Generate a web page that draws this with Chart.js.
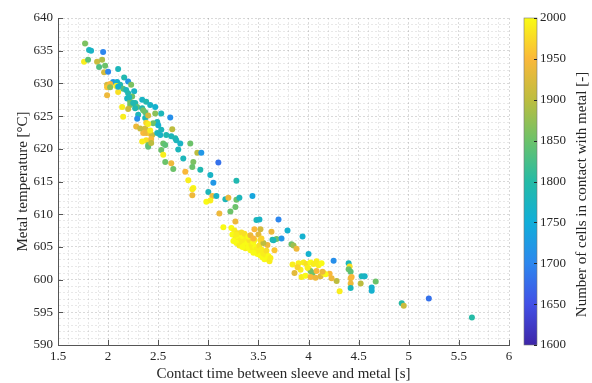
<!DOCTYPE html>
<html>
<head>
<meta charset="utf-8">
<script src="https://cdn.jsdelivr.net/npm/chart.js@4.4.0/dist/chart.umd.min.js"></script>
<style>
  html, body { margin: 0; padding: 0; background: #fff; }
</style>
</head>
<body>
<canvas id="scatter" width="592" height="383"></canvas>
<script>
// contact time [s], metal temperature [°C], cells in contact [-]
const contactTime = [
  1.77,1.81,1.83,1.95,1.76,1.80,1.89,1.94,1.91,1.97,
  1.96,2.00,2.10,2.16,2.05,2.09,2.20,1.99,2.02,1.99,
  2.02,2.12,2.15,2.18,2.23,1.99,2.10,2.20,2.26,2.24,
  2.19,2.34,2.38,2.27,2.22,2.14,2.20,2.29,2.34,2.42,
  2.47,2.15,2.37,2.30,2.37,2.47,2.53,2.62,2.38,2.49,
  2.35,2.40,2.45,2.50,2.37,2.35,2.38,2.42,2.38,2.34,
  2.44,2.49,2.53,2.52,2.64,2.63,2.67,2.55,2.57,2.68,
  2.72,2.82,2.53,2.70,2.55,2.89,2.93,2.63,2.57,2.75,
  2.65,2.77,2.85,2.84,2.92,3.10,2.80,3.02,3.05,2.85,
  3.28,2.29,2.40,2.40,2.28,2.32,2.40,2.42,2.58,2.43,
  2.43,2.22,2.25,2.27,2.21,2.08,2.10,
  2.84,2.84,3.00,3.04,3.08,2.98,3.02,3.17,3.20,3.28,
  3.31,3.44,3.11,3.22,3.27,3.15,3.27,3.48,3.51,3.70,
  3.46,3.52,3.63,3.79,3.64,3.68,3.65,3.73,3.59,3.66,
  3.83,3.85,3.88,3.94,4.00,4.25,4.40,4.41,4.40,4.42,
  4.42,4.43,4.42,4.42,4.53,4.56,4.52,4.67,4.63,4.63,
  4.93,4.95,5.20,5.63,4.31,4.28,4.23,4.21,
  3.84,3.86,3.90,3.92,3.95,3.98,4.00,4.02,4.05,4.08,
  4.10,4.13,3.93,3.97,4.02,4.04,4.02,4.07,4.12,4.15,
  4.17,4.08,3.99,3.89,4.14,
  3.23,3.26,3.24,3.27,3.25,3.29,3.30,3.32,3.28,3.31,
  3.33,3.35,3.34,3.36,3.38,3.39,3.37,3.40,3.41,3.43,
  3.42,3.44,3.45,3.46,3.47,3.48,3.49,3.50,3.51,3.52,
  3.53,3.54,3.55,3.56,3.57,3.58,3.59,3.61,3.60,3.62,
  3.34,3.28,3.36,3.40,3.46,3.52,3.45,3.42,3.45,3.50,
  3.55,3.53
];
const metalTemp = [
  636.1,635.1,635.0,634.8,633.3,633.6,633.3,633.6,632.5,632.7,
  631.7,631.8,632.2,630.9,630.2,630.2,630.3,629.8,629.9,629.4,
  629.4,629.8,629.2,629.0,629.8,628.2,628.7,628.5,628.8,628.0,
  627.7,627.5,627.2,627.0,626.7,626.4,626.1,626.4,626.2,626.7,
  626.4,624.9,625.6,625.2,624.7,625.4,625.4,624.8,624.0,624.1,
  625.9,625.1,623.9,623.6,623.1,622.4,622.4,622.3,621.3,621.1,
  622.1,622.4,622.9,622.1,623.0,621.9,621.6,620.8,620.6,621.3,
  620.8,620.8,619.8,619.9,619.1,619.4,619.4,617.8,618.0,618.5,
  616.9,616.5,618.0,617.2,616.8,617.9,615.2,616.0,614.8,614.0,
  615.1,624.6,620.6,620.3,623.4,623.1,623.8,622.8,622.1,621.5,
  620.9,627.2,627.0,626.2,627.9,629.6,629.5,
  613.8,612.9,613.4,612.8,612.8,611.9,612.1,612.3,612.5,612.2,
  612.5,612.8,610.1,610.4,611.1,608.0,608.9,609.1,609.2,609.2,
  607.7,607.7,607.3,607.5,606.1,606.2,606.0,606.3,605.3,604.5,
  605.4,605.2,604.7,606.6,603.9,602.9,602.5,602.0,601.6,601.2,
  600.2,600.4,599.4,598.7,600.5,600.5,599.4,599.7,598.8,598.3,
  596.4,596.0,597.1,594.2,598.2,599.8,600.2,600.9,
  602.3,601.0,602.5,601.5,602.6,602.4,601.7,602.6,602.4,602.8,
  602.2,602.5,600.4,600.6,601.3,601.0,600.4,600.3,600.5,601.0,
  600.8,601.3,601.8,601.9,601.2,
  607.9,607.5,606.9,606.3,605.9,607.1,606.6,606.0,605.6,605.2,
  607.2,606.5,605.8,605.2,606.2,605.6,604.8,604.9,606.0,605.3,
  604.5,604.9,605.7,604.3,605.0,604.6,603.9,604.3,605.2,603.7,
  604.6,603.4,604.0,603.1,603.8,604.4,603.2,602.8,603.6,603.3,
  605.0,606.9,607.0,606.6,606.1,606.0,604.1,606.8,606.3,606.9,
  605.6,606.3
];
const cellsInContact = [
  1860,1780,1770,1700,1990,1840,1910,1890,1830,1850,
  1920,1700,1780,1790,1720,1760,1720,1920,1950,1960,
  1870,1790,1830,1780,1860,1940,1980,1790,1770,1850,
  1770,1770,1790,1790,1860,1990,1910,1840,1790,1770,
  1760,1990,1840,1780,1780,1870,1780,1710,1970,1780,
  1850,1920,1850,1760,1920,1950,1940,1960,1980,1990,
  1910,1780,1780,1770,1900,1780,1790,1850,1840,1780,
  1770,1850,1850,1780,1990,1900,1720,1940,1850,1780,
  1850,1950,1860,1850,1790,1680,1990,1770,1720,2000,
  1790,1710,1850,1840,1940,1910,1990,1990,1790,1950,
  1900,1850,1790,1790,1780,1990,1760,
  1990,1940,1780,1940,1770,2000,1990,1780,1940,1850,
  1780,1740,1940,1850,1850,2000,1940,1780,1770,1700,
  1950,1920,1940,1760,1800,1850,1780,1720,1940,1960,
  1850,1880,1940,1760,1760,1710,1780,1980,1850,1840,
  1940,1950,1940,1780,1780,1770,1900,1850,1760,1760,
  1800,1910,1680,1800,1990,1900,1940,1950,
  1990,1930,1990,1990,1990,1980,1990,2000,1990,1990,
  1990,2000,1990,2000,1860,1850,1950,1940,1930,1990,
  2000,1950,1990,1970,1940,
  2000,1990,2000,1990,2000,1980,2000,1990,2000,1990,
  1980,2000,1990,2000,1990,2000,1990,2000,1980,1990,
  2000,1990,2000,1990,2000,1990,2000,1990,1980,2000,
  1990,2000,1990,2000,1990,1980,2000,1990,2000,1990,
  2000,1990,1980,2000,1990,1980,2000,1940,1950,1930,
  1900,1970
];

const xLabelTicks = [1.5, 2, 2.5, 3, 3.5, 4, 4.5, 5, 5.5, 6];
const yLabelTicks = [590, 595, 600, 605, 610, 615, 620, 625, 630, 635, 640];
const cbTicks = [1600, 1650, 1700, 1750, 1800, 1850, 1900, 1950, 2000];

// parula-ish colour stops, evenly spaced from 1600 to 2000
const parulaStops = ['#3e26a8', '#4250e6', '#2d87ee', '#11aed9', '#25bba6',
                     '#6cc26a', '#bdbd3f', '#fab83a', '#f9fb15'];
const cbMin = cbTicks[0], cbMax = cbTicks[cbTicks.length - 1];

const textColor = '#262626';
const fontFamily = '"Liberation Serif", "Times New Roman", serif';

function hexToRgb(h) {
  const n = parseInt(h.slice(1), 16);
  return [(n >> 16) & 255, (n >> 8) & 255, n & 255];
}
const stopRgb = parulaStops.map(hexToRgb);

function cellColor(v) {
  let t = (v - cbMin) / (cbMax - cbMin);
  t = Math.min(1, Math.max(0, t));
  const pos = t * (stopRgb.length - 1);
  const i = Math.min(Math.floor(pos), stopRgb.length - 2);
  const f = pos - i;
  const a = stopRgb[i], b = stopRgb[i + 1];
  const c = a.map((ch, k) => Math.round(ch + (b[k] - ch) * f));
  return 'rgb(' + c.join(',') + ')';
}

const near = (v, list) => list.some(t => Math.abs(t - v) < 1e-6);

// colourbar, inward tick marks and the rotated colourbar label
const colorbarPlugin = {
  id: 'colorbar',
  afterDraw(chart) {
    const { ctx, chartArea } = chart;
    const cb = chart.scales.cb;
    const xs = chart.scales.x, ys = chart.scales.y;
    const x0 = cb.left + 15, w = 13;
    const top = cb.top, bot = cb.bottom;

    ctx.save();
    const grad = ctx.createLinearGradient(0, bot, 0, top);
    parulaStops.forEach((c, i) => grad.addColorStop(i / (parulaStops.length - 1), c));
    ctx.fillStyle = grad;
    ctx.fillRect(x0, top, w, bot - top);
    ctx.strokeStyle = '#777';
    ctx.lineWidth = 0.6;
    ctx.strokeRect(x0, top, w, bot - top);

    ctx.strokeStyle = textColor;
    ctx.lineWidth = 1;
    ctx.beginPath();
    cbTicks.forEach(v => {
      const y = Math.round(cb.getPixelForValue(v)) + 0.5;
      ctx.moveTo(x0 + w, y);
      ctx.lineTo(x0 + w - 3, y);
    });
    ctx.stroke();

    ctx.strokeStyle = '#555';
    ctx.beginPath();
    xLabelTicks.forEach(v => {
      const x = Math.round(xs.getPixelForValue(v)) + 0.5;
      ctx.moveTo(x, chartArea.bottom);
      ctx.lineTo(x, chartArea.bottom - 5);
    });
    yLabelTicks.forEach(v => {
      const y = Math.round(ys.getPixelForValue(v)) + 0.5;
      ctx.moveTo(chartArea.left, y);
      ctx.lineTo(chartArea.left + 5, y);
    });
    ctx.stroke();

    ctx.translate(cb.right - 10, (top + bot) / 2 + 13);
    ctx.rotate(-Math.PI / 2);
    ctx.fillStyle = textColor;
    ctx.font = '15px ' + fontFamily;
    ctx.textAlign = 'center';
    ctx.textBaseline = 'middle';
    ctx.fillText('Number of cells in contact with metal [-]', 0, 0);
    ctx.restore();
  }
};

const gridColor = major => (major ? 'rgba(0,0,0,0.15)' : 'rgba(0,0,0,0.09)');

new Chart(document.getElementById('scatter'), {
  type: 'scatter',
  data: {
    datasets: [{
      data: contactTime.map((x, i) => ({ x: x, y: metalTemp[i] })),
      pointBackgroundColor: cellsInContact.map(cellColor),
      pointBorderWidth: 0,
      pointRadius: 3,
      pointHoverRadius: 3
    }]
  },
  options: {
    responsive: false,
    animation: false,
    layout: { padding: { top: 18, left: 0, right: 0, bottom: 0 } },
    plugins: { legend: { display: false }, tooltip: { enabled: false } },
    scales: {
      x: {
        type: 'linear',
        min: 1.5,
        max: 6,
        ticks: {
          stepSize: 0.1,
          autoSkip: false,
          maxRotation: 0,
          padding: 4,
          color: textColor,
          font: { family: fontFamily, size: 13 },
          callback: v => (near(v, xLabelTicks) ? String(Math.round(v * 10) / 10) : '')
        },
        grid: { color: c => gridColor(near(c.tick.value, xLabelTicks)), drawTicks: false },
        border: { display: true, color: '#555', width: 1, dash: [2, 2] },
        title: {
          display: true,
          text: 'Contact time between sleeve and metal [s]',
          color: textColor,
          font: { family: fontFamily, size: 15 },
          padding: { top: 0, bottom: 0 }
        },
        afterFit: s => { s.height = 38; s.paddingLeft = 0; s.paddingRight = 0; }
      },
      y: {
        type: 'linear',
        min: 590,
        max: 640,
        ticks: {
          stepSize: 1,
          autoSkip: false,
          padding: 5,
          color: textColor,
          font: { family: fontFamily, size: 13 },
          callback: v => (near(v, yLabelTicks) ? String(Math.round(v)) : '')
        },
        grid: { color: c => gridColor(near(c.tick.value, yLabelTicks)), drawTicks: false },
        border: { display: true, color: '#555', width: 1, dash: [2, 2] },
        title: {
          display: true,
          text: 'Metal temperature [°C]',
          color: textColor,
          font: { family: fontFamily, size: 15 },
          padding: { top: 14, bottom: 0 }
        },
        afterFit: s => { s.width = 58; s.paddingTop = 0; s.paddingBottom = 0; }
      },
      cb: {
        type: 'linear',
        axis: 'y',
        position: 'right',
        display: true,
        min: cbMin,
        max: cbMax,
        ticks: {
          stepSize: 50,
          padding: 31,
          color: textColor,
          font: { family: fontFamily, size: 13 },
          callback: v => String(v)
        },
        grid: { display: false, drawTicks: false },
        border: { display: false },
        afterFit: s => { s.width = 83; s.paddingTop = 0; s.paddingBottom = 0; }
      }
    }
  },
  plugins: [colorbarPlugin]
});
</script>
</body>
</html>
